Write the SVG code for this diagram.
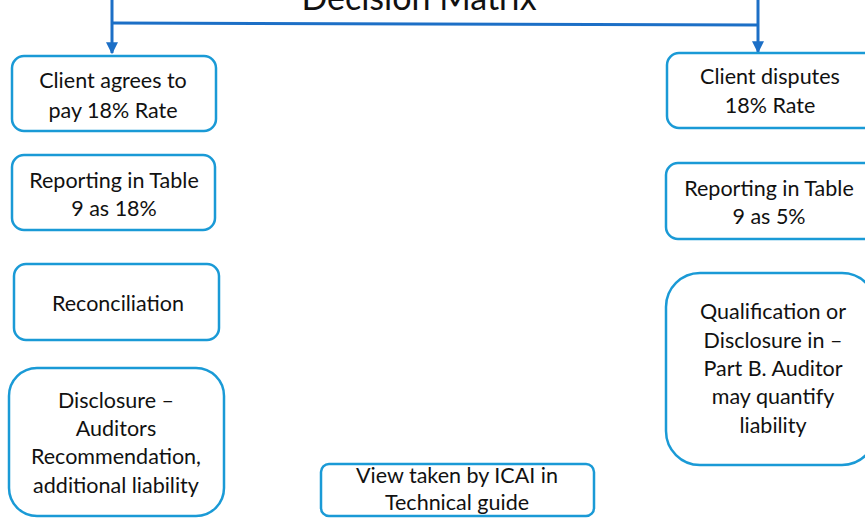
<svg xmlns="http://www.w3.org/2000/svg" width="865" height="518" viewBox="0 0 865 518">
<defs>
<style>
.box{fill:#fff;stroke:#1a9ad6;stroke-width:2.5}
.t{font-family:Lato,"Open Sans","Liberation Sans",sans-serif;font-size:21.5px;fill:#111;text-anchor:middle}
.title{font-family:Lato,"Open Sans","Liberation Sans",sans-serif;font-size:34px;fill:#111;text-anchor:middle}
.ln{fill:none;stroke:#1c6fc6;stroke-width:3}
</style>
<marker id="ah" viewBox="0 0 10 10" refX="9" refY="5" markerWidth="4" markerHeight="4" orient="auto" markerUnits="strokeWidth">
<path d="M0,0 L10,5 L0,10 z" fill="#1c6fc6"/>
</marker>
</defs>
<rect width="865" height="518" fill="#fff"/>
<text class="title" x="419" y="10">Decision Matrix</text>
<g id="connectors">
<path class="ln" d="M112,0 V53" marker-end="url(#ah)"/>
<path class="ln" d="M112,23 L758,25"/>
<path class="ln" d="M758,0 V52" marker-end="url(#ah)"/>
</g>
<g id="n1"><rect class="box" x="12" y="56" width="204" height="75" rx="12"/>
<text class="t" x="113" y="88">Client agrees to</text><text class="t" x="113" y="118">pay 18% Rate</text></g>
<g id="n2"><rect class="box" x="12" y="155" width="203" height="75" rx="12"/>
<text class="t" x="114" y="188">Reporting in Table</text><text class="t" x="114" y="216">9 as 18%</text></g>
<g id="n3"><rect class="box" x="14" y="264" width="205" height="76" rx="12"/>
<text class="t" x="118" y="311">Reconciliation</text></g>
<g id="n4"><rect class="box" x="9" y="368" width="215" height="148" rx="28"/>
<text class="t" x="116" y="408">Disclosure –</text><text class="t" x="116" y="436">Auditors</text><text class="t" x="116" y="464">Recommendation,</text><text class="t" x="116" y="493">additional liability</text></g>
<g id="n5"><rect class="box" x="667" y="53" width="210" height="75" rx="12"/>
<text class="t" x="770" y="84">Client disputes</text><text class="t" x="770" y="113">18% Rate</text></g>
<g id="n6"><rect class="box" x="666" y="163" width="210" height="76" rx="12"/>
<text class="t" x="769" y="196">Reporting in Table</text><text class="t" x="769" y="224">9 as 5%</text></g>
<g id="n7"><rect class="box" x="666" y="273" width="210" height="192" rx="34"/>
<text class="t" x="773" y="319">Qualification or</text><text class="t" x="773" y="348">Disclosure in –</text><text class="t" x="773" y="376">Part B. Auditor</text><text class="t" x="773" y="404">may quantify</text><text class="t" x="773" y="433">liability</text></g>
<g id="n8"><rect class="box" x="321" y="464" width="273" height="52" rx="8"/>
<text class="t" x="457" y="483">View taken by ICAI in</text><text class="t" x="457" y="510">Technical guide</text></g>
</svg>
